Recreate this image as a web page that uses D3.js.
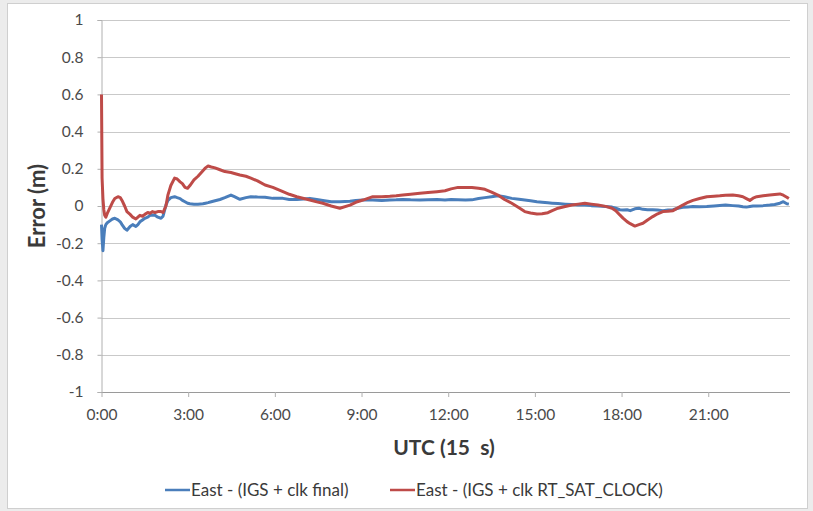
<!DOCTYPE html>
<html>
<head>
<meta charset="utf-8">
<script src="https://cdn.jsdelivr.net/npm/d3@7"></script>
<style>
  html, body { margin: 0; padding: 0; background: #ececec; }
  svg { display: block; }
</style>
</head>
<body>
<svg id="chart" width="813" height="511"></svg>
<script>
// ---- data ----
const hours = [
  0, 0.02, 0.05, 0.08, 0.11, 0.15, 0.2, 0.29, 0.38, 0.46,
  0.57, 0.65, 0.71, 0.8, 0.88, 0.99, 1.08, 1.19, 1.26, 1.33,
  1.42, 1.5, 1.6, 1.68, 1.76, 1.85, 1.95, 2.06, 2.13, 2.23,
  2.3, 2.4, 2.53, 2.62, 2.72, 2.8, 2.89, 2.98, 3.06, 3.2,
  3.34, 3.51, 3.6, 3.69, 3.8, 3.93, 4.1, 4.27, 4.48, 4.6,
  4.79, 5.0, 5.17, 5.4, 5.66, 5.93, 6.28, 6.5, 6.76, 7.0,
  7.21, 7.45, 7.66, 7.95, 8.25, 8.6, 8.8, 9.05, 9.39, 9.7,
  9.98, 10.2, 10.43, 10.7, 11.02, 11.3, 11.61, 11.89, 12.1, 12.34,
  12.6, 12.82, 13.05, 13.27, 13.5, 13.72, 13.95, 14.2, 14.45, 14.65,
  14.85, 15.07, 15.25, 15.45, 15.6, 15.8, 16.05, 16.28, 16.5, 16.73,
  16.95, 17.18, 17.45, 17.67, 17.8, 17.94, 18.05, 18.19, 18.3, 18.46,
  18.6, 18.74, 18.9, 19.08, 19.25, 19.43, 19.6, 19.78, 19.95, 20.12,
  20.3, 20.47, 20.7, 20.95, 21.2, 21.4, 21.6, 21.85, 22.05, 22.2,
  22.32, 22.44, 22.55, 22.68, 22.9, 23.13, 23.3, 23.48, 23.6, 23.72,
  23.79
];

const eastFinal = [
  -0.1, -0.18, -0.24, -0.17, -0.12, -0.1, -0.09, -0.08, -0.07, -0.066,
  -0.075, -0.085, -0.1, -0.12, -0.13, -0.11, -0.10, -0.11, -0.1, -0.085,
  -0.075, -0.066, -0.06, -0.05, -0.048, -0.05, -0.06, -0.066, -0.055, 0.005,
  0.03, 0.045, 0.05, 0.045, 0.04, 0.03, 0.023, 0.015, 0.012, 0.01,
  0.01, 0.012, 0.015, 0.018, 0.023, 0.028, 0.035, 0.045, 0.059, 0.05,
  0.036, 0.045, 0.05, 0.048, 0.047, 0.041, 0.041, 0.035, 0.035, 0.038,
  0.041, 0.035, 0.03, 0.023, 0.023, 0.025, 0.03, 0.032, 0.032, 0.03,
  0.032, 0.033, 0.035, 0.033, 0.032, 0.033, 0.035, 0.032, 0.035, 0.034,
  0.032, 0.033, 0.04, 0.045, 0.05, 0.055, 0.05, 0.041, 0.036, 0.032,
  0.028, 0.023, 0.02, 0.017, 0.015, 0.013, 0.01, 0.008, 0.006, 0.005,
  0.002, 0.0, -0.003, -0.006, -0.012, -0.02, -0.022, -0.02, -0.025, -0.015,
  -0.012, -0.018, -0.02, -0.02, -0.022, -0.025, -0.022, -0.02, -0.012, -0.007,
  -0.005, -0.003, -0.004, -0.003, 0.0, 0.003, 0.005, 0.002, 0.0, -0.004,
  -0.006, -0.003, 0.0, 0.0, 0.002, 0.005, 0.008, 0.015, 0.023, 0.012,
  0.01
];

const eastRtSatClock = [
  0.6, 0.15, 0.04, -0.02, -0.05, -0.06, -0.04, -0.01, 0.02, 0.04,
  0.05, 0.045, 0.03, 0.0, -0.03, -0.045, -0.06, -0.07, -0.06, -0.05,
  -0.055, -0.045, -0.035, -0.04, -0.03, -0.035, -0.03, -0.03, -0.035, 0.0,
  0.06, 0.11, 0.15, 0.145, 0.13, 0.12, 0.10, 0.095, 0.11, 0.14,
  0.16, 0.19, 0.205, 0.215, 0.21, 0.205, 0.195, 0.185, 0.18, 0.175,
  0.167, 0.16, 0.15, 0.135, 0.113, 0.10, 0.077, 0.063, 0.05, 0.04,
  0.032, 0.022, 0.015, 0.0, -0.012, 0.005, 0.02, 0.032, 0.05, 0.05,
  0.052, 0.055, 0.059, 0.063, 0.068, 0.072, 0.077, 0.082, 0.092, 0.10,
  0.10, 0.10, 0.095, 0.09, 0.075, 0.059, 0.035, 0.015, -0.01, -0.03,
  -0.038, -0.043, -0.042, -0.036, -0.025, -0.012, -0.003, 0.005, 0.01, 0.015,
  0.01, 0.005, -0.002, -0.012, -0.025, -0.048, -0.065, -0.084, -0.095, -0.108,
  -0.1, -0.093, -0.075, -0.057, -0.042, -0.03, -0.028, -0.025, -0.01, 0.005,
  0.02, 0.03, 0.04, 0.05, 0.053, 0.055, 0.058, 0.059, 0.055, 0.05,
  0.04, 0.03, 0.042, 0.05, 0.055, 0.059, 0.062, 0.065, 0.058, 0.047,
  0.04
];

const xTickHours = [0, 3, 6, 9, 12, 15, 18, 21];
const xTickLabels = ["0:00", "3:00", "6:00", "9:00", "12:00", "15:00", "18:00", "21:00"];
const yTicks = [-1, -0.8, -0.6, -0.4, -0.2, 0, 0.2, 0.4, 0.6, 0.8, 1];

const seriesNames = ["East - (IGS + clk final)", "East - (IGS + clk RT_SAT_CLOCK)"];
const seriesColors = ["#4A7EBB", "#BE4B48"];

// ---- drawing ----
const svg = d3.select("#chart");
const FONT = "Lato, 'Open Sans', sans-serif";

// chart frame
svg.append("rect").attr("x", 7.5).attr("y", 3.5).attr("width", 800).attr("height", 505)
  .attr("fill", "#ffffff").attr("stroke", "#cfcfcf");

const plot = { left: 101.5, right: 790, top: 20, bottom: 392 };

const x = d3.scaleLinear().domain([0, 23.83]).range([plot.left, plot.right]);
const y = d3.scaleLinear().domain([-1, 1]).range([plot.bottom, plot.top]);

// gridlines
svg.append("g")
  .selectAll("line").data(yTicks.filter(d => d !== -1)).join("line")
  .attr("x1", plot.left).attr("x2", plot.right)
  .attr("y1", d => Math.round(y(d)) + 0.5).attr("y2", d => Math.round(y(d)) + 0.5)
  .attr("stroke", "#c9c9c9").attr("stroke-width", 1);

// y axis
const yAxis = svg.append("g")
  .attr("transform", `translate(${plot.left},0)`)
  .call(d3.axisLeft(y).tickValues(yTicks).tickSize(4).tickPadding(14)
    .tickFormat(d => String(+d.toFixed(1))));
yAxis.select(".domain").attr("stroke", "#b0b0b0");
yAxis.selectAll(".tick line").attr("stroke", "#b0b0b0");
yAxis.selectAll("text").attr("font-family", FONT).attr("font-size", 15.5).attr("fill", "#4a4a4a");

// x axis
const xAxis = svg.append("g")
  .attr("transform", `translate(0,${plot.bottom})`)
  .call(d3.axisBottom(x).tickValues(xTickHours).tickSize(5).tickPadding(12)
    .tickFormat((d, i) => xTickLabels[i]));
xAxis.select(".domain").attr("stroke", "#9a9a9a").attr("d", `M${plot.left},0.5H${plot.right}`);
xAxis.selectAll(".tick line").attr("stroke", "#b0b0b0");
xAxis.selectAll("text").attr("font-family", FONT).attr("font-size", 15.5).attr("fill", "#4a4a4a");

// lines
const allSeries = [eastFinal, eastRtSatClock];
const line = d3.line().x((d, i) => x(hours[i])).y(d => y(d));
svg.append("g").selectAll("path").data(allSeries).join("path")
  .attr("d", d => line(d))
  .attr("fill", "none")
  .attr("stroke", (d, i) => seriesColors[i])
  .attr("stroke-width", 3)
  .attr("stroke-linejoin", "round");

// axis titles
svg.append("text")
  .attr("transform", `translate(45,206) rotate(-90)`)
  .attr("text-anchor", "middle")
  .attr("font-family", FONT).attr("font-weight", "bold").attr("font-size", 22)
  .attr("fill", "#3a3a3a")
  .text("Error (m)");

svg.append("text")
  .attr("x", 444).attr("y", 455)
  .attr("text-anchor", "middle")
  .attr("font-family", FONT).attr("font-weight", "bold").attr("font-size", 21)
  .attr("fill", "#3a3a3a")
  .style("white-space", "pre")
  .text("UTC (15  s)");

// legend
const legendX = [165, 390];
const lg = svg.append("g").selectAll("g").data(seriesNames).join("g")
  .attr("transform", (d, i) => `translate(${legendX[i]},490)`);
lg.append("line").attr("x1", 0).attr("x2", 25).attr("y1", 0).attr("y2", 0)
  .attr("stroke", (d, i) => seriesColors[i]).attr("stroke-width", 2.5);
lg.append("text").attr("x", 26).attr("y", 6)
  .attr("font-family", FONT).attr("font-size", 17).attr("fill", "#3a3a3a")
  .text(d => d);
</script>
</body>
</html>
